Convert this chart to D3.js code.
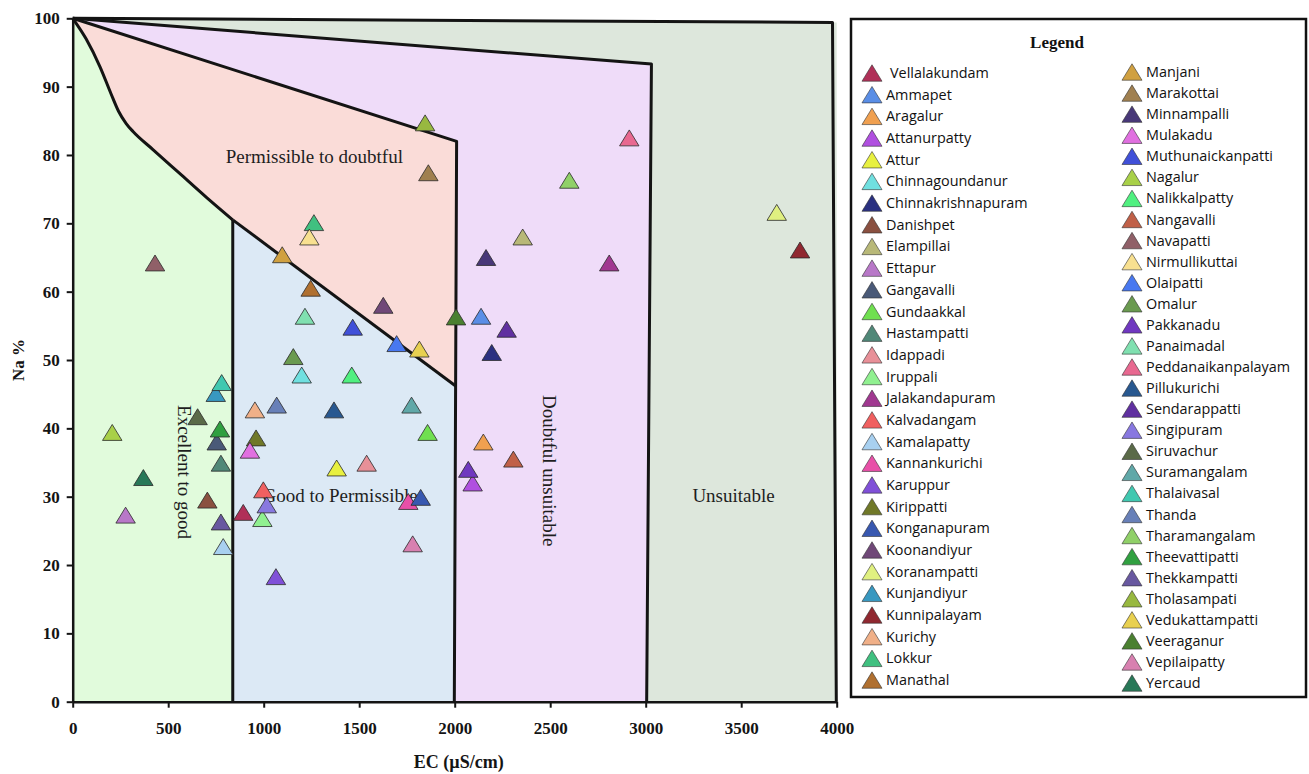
<!DOCTYPE html>
<html>
<head>
<meta charset="utf-8">
<script src="https://cdn.jsdelivr.net/npm/d3@7"></script>
<style>
  body { margin: 0; background: #ffffff; }
  svg { display: block; }
</style>
</head>
<body>
<svg id="chart" width="1309" height="774"></svg>
<script>
// Sampling sites (legend order)
const sites = [
  "Vellalakundam", "Ammapet", "Aragalur", "Attanurpatty", "Attur", "Chinnagoundanur",
  "Chinnakrishnapuram", "Danishpet", "Elampillai", "Ettapur", "Gangavalli", "Gundaakkal",
  "Hastampatti", "Idappadi", "Iruppali", "Jalakandapuram", "Kalvadangam", "Kamalapatty",
  "Kannankurichi", "Karuppur", "Kirippatti", "Konganapuram", "Koonandiyur", "Koranampatti",
  "Kunjandiyur", "Kunnipalayam", "Kurichy", "Lokkur", "Manathal",
  "Manjani", "Marakottai", "Minnampalli", "Mulakadu", "Muthunaickanpatti", "Nagalur",
  "Nalikkalpatty", "Nangavalli", "Navapatti", "Nirmullikuttai", "Olaipatti", "Omalur",
  "Pakkanadu", "Panaimadal", "Peddanaikanpalayam", "Pillukurichi", "Sendarappatti",
  "Singipuram", "Siruvachur", "Suramangalam", "Thalaivasal", "Thanda", "Tharamangalam",
  "Theevattipatti", "Thekkampatti", "Tholasampati", "Vedukattampatti", "Veeraganur",
  "Vepilaipatty", "Yercaud"
];

// Electrical conductivity, µS/cm
const ecValues = [
  893, 2138, 2150, 2094, 1382, 1199,
  2194, 705, 2356, 277, 754, 1858,
  776, 1539, 993, 2809, 998, 788,
  1757, 1064, 960, 1822, 1626, 3686,
  749, 3808, 954, 1263, 1246,
  1097, 1862, 2164, 928, 1466, 207,
  1461, 2307, 431, 1239, 1696, 1155,
  2071, 1216, 2914, 1368, 2272,
  1016, 654, 1774, 780, 1068, 2600,
  771, 776, 1845, 1815, 2007,
  1780, 370
];

// Sodium percentage
const naValues = [
  27.7, 56.4, 38.0, 32.0, 34.2, 47.8,
  51.1, 29.5, 68.0, 27.3, 38.0, 39.4,
  34.9, 34.9, 26.8, 64.2, 31.0, 22.7,
  29.3, 18.3, 38.6, 29.9, 58.0, 71.6,
  45.1, 66.1, 42.7, 70.1, 60.5,
  65.4, 77.4, 65.0, 36.8, 54.8, 39.4,
  47.8, 35.5, 64.2, 68.0, 52.4, 50.5,
  34.0, 56.4, 82.5, 42.7, 54.5,
  28.8, 41.7, 43.4, 46.7, 43.4, 76.3,
  39.9, 26.3, 84.7, 51.6, 56.3,
  23.1, 32.8
];

const siteColors = [
  "#b03058", "#5a8ee6", "#f0a050", "#b050e0", "#e8f040", "#70e0e0",
  "#2a3080", "#8a5040", "#b8b878", "#b878c8", "#4a5a78", "#70e050",
  "#508878", "#e89098", "#90f090", "#a03890", "#f06060", "#a8d0f0",
  "#e850a8", "#8050d8", "#707828", "#3858b0", "#704878", "#e0f080",
  "#3898c0", "#902830", "#f0b088", "#40c080", "#b07030",
  "#d0a040", "#a08050", "#483878", "#e070e0", "#4050d8", "#a8d048",
  "#50f080", "#c06048", "#906068", "#f8e090", "#4878f0", "#6a9a50",
  "#7038c0", "#80e0b0", "#e86890", "#285890", "#6030a0",
  "#8878e0", "#5a6a48", "#60a8a8", "#40c8b0", "#6880b8", "#90d068",
  "#30a040", "#6858a0", "#98b840", "#e8d050", "#4a8030",
  "#d880b0", "#287858"
];

const xTicks = [0, 500, 1000, 1500, 2000, 2500, 3000, 3500, 4000];
const yTicks = [0, 10, 20, 30, 40, 50, 60, 70, 80, 90, 100];

// Wilcox class boundaries, in (EC, Na%) units
const outerEdge = [[0, 100], [3978, 99.4], [3998, 0]];
const unsuitableEdge = [[0, 100], [3030, 93.3], [3005, 0]];
const doubtfulEdge = [[0, 100], [2010, 82], [1998, 0]];
const excellentCurve = [[0, 100], [70, 97.0], [143, 92.9], [200, 89.0], [240, 86.4],
                        [280, 84.6], [317, 83.4], [420, 80.8], [560, 77.3], [700, 73.8],
                        [838, 70.5]];
const permissibleEdge = [[838, 70.5], [2005, 46.2]];
const excellentEdge = [[838, 0], [838, 70.5]];

const classNames = ["Permissible to doubtful", "Excellent to good", "Good to Permissible",
                    "Doubtful unsuitable", "Unsuitable"];

const svg = d3.select("#chart");

const x = d3.scaleLinear().domain([0, 4000]).range([72.7, 836.7]);
const y = d3.scaleLinear().domain([0, 100]).range([701.7, 18.3]);

const line = d3.line().x(d => x(d[0])).y(d => y(d[1]));
const smooth = d3.line().x(d => x(d[0])).y(d => y(d[1])).curve(d3.curveMonotoneX);

// ---- class fills (painted back to front) ----
const fillG = svg.append("g");
const polys = [
  { fill: "#dde7dc", pts: [[0, 100], [3978, 99.4], [4000, 99.4], [4000, 0], [0, 0]] },
  { fill: "#efdcf9", pts: [[0, 100], [3030, 93.3], [3005, 0], [0, 0]] },
  { fill: "#fadcd8", pts: [[0, 100], [2010, 82], [2005, 46.2], [838, 70.5], [0, 70.5]] },
  { fill: "#dce9f5", pts: [[838, 0], [838, 70.5], [2005, 46.2], [1998, 0]] }
];
fillG.selectAll("path.zone")
  .data(polys)
  .join("path")
  .attr("class", "zone")
  .attr("d", d => line(d.pts) + "Z")
  .attr("fill", d => d.fill);

// excellent-to-good zone follows the smooth boundary
fillG.append("path")
  .attr("d", smooth(excellentCurve) + line([[838, 0], [0, 0]]).replace("M", "L") + "Z")
  .attr("fill", "#e1fbdc");

// ---- class boundaries ----
const edgeG = svg.append("g")
  .attr("fill", "none")
  .attr("stroke", "#141414")
  .attr("stroke-width", 3)
  .attr("stroke-linejoin", "round");
edgeG.selectAll("path.edge")
  .data([outerEdge, unsuitableEdge, doubtfulEdge, permissibleEdge, excellentEdge])
  .join("path")
  .attr("class", "edge")
  .attr("d", d => line(d));
edgeG.append("path").attr("d", smooth(excellentCurve));

// ---- class labels ----
const serif = "'Liberation Serif', 'Times New Roman', serif";
const labelG = svg.append("g")
  .attr("font-family", serif)
  .attr("font-size", 19)
  .attr("fill", "#1e1e1e");

labelG.append("text").attr("x", x(1265)).attr("y", y(79.8))
  .attr("text-anchor", "middle").attr("dy", "0.35em").text(classNames[0]);
labelG.append("text")
  .attr("transform", `translate(${x(585)},${y(33.6)}) rotate(90)`)
  .attr("text-anchor", "middle").attr("dy", "0.35em").text(classNames[1]);
labelG.append("text").attr("x", x(1400)).attr("y", y(30.2))
  .attr("text-anchor", "middle").attr("dy", "0.35em").text(classNames[2]);
labelG.append("text")
  .attr("transform", `translate(${x(2495)},${y(33.8)}) rotate(90)`)
  .attr("text-anchor", "middle").attr("dy", "0.35em").text(classNames[3]);
labelG.append("text").attr("x", x(3460)).attr("y", y(30.2))
  .attr("text-anchor", "middle").attr("dy", "0.35em").text(classNames[4]);

// ---- axes ----
const xAxis = svg.append("g")
  .attr("transform", `translate(0,${y(0)})`)
  .call(d3.axisBottom(x).tickValues(xTicks).tickFormat(d3.format("d"))
    .tickSize(6).tickSizeOuter(0).tickPadding(14));
const yAxis = svg.append("g")
  .attr("transform", `translate(${x(0)},0)`)
  .call(d3.axisLeft(y).tickValues(yTicks).tickFormat(d3.format("d"))
    .tickSize(6).tickSizeOuter(0).tickPadding(7));

[xAxis, yAxis].forEach(g => {
  g.select(".domain").attr("stroke", "#141414").attr("stroke-width", 2.5);
  g.selectAll(".tick line").attr("stroke", "#141414").attr("stroke-width", 2);
  g.selectAll(".tick text")
    .attr("font-family", serif).attr("font-size", 17).attr("font-weight", "bold")
    .attr("fill", "#141414");
});

svg.append("text")
  .attr("transform", `translate(18,${(y(0) + y(100)) / 2}) rotate(-90)`)
  .attr("text-anchor", "middle").attr("dy", "0.35em")
  .attr("font-family", serif).attr("font-size", 17).attr("font-weight", "bold")
  .attr("fill", "#141414")
  .text("Na %");

svg.append("text")
  .attr("x", (x(0) + x(4000)) / 2 + 4).attr("y", 762)
  .attr("text-anchor", "middle").attr("dy", "0.35em")
  .attr("font-family", serif).attr("font-size", 18).attr("font-weight", "bold")
  .attr("fill", "#141414")
  .text("EC (µS/cm)");

// ---- markers: upward triangles centred on their bounding box ----
const triangleUp = {
  draw(context, size) {
    const ratio = 0.82;
    const w = Math.sqrt(2 * size / ratio);
    const h = w * ratio;
    context.moveTo(0, -h / 2);
    context.lineTo(w / 2, h / 2);
    context.lineTo(-w / 2, h / 2);
    context.closePath();
  }
};
const marker = d3.symbol().type(triangleUp).size(155);

const points = sites.map((s, i) => ({ site: s, ec: ecValues[i], na: naValues[i], color: siteColors[i] }));

svg.append("g").selectAll("path")
  .data(points)
  .join("path")
  .attr("transform", d => `translate(${x(d.ec)},${y(d.na)})`)
  .attr("d", marker)
  .attr("fill", d => d.color)
  .attr("stroke", "#2a2a2a")
  .attr("stroke-width", 0.8)
  .attr("stroke-linejoin", "miter");

// ---- legend ----
const legend = svg.append("g");
legend.append("rect")
  .attr("x", 851).attr("y", 19).attr("width", 455).attr("height", 678)
  .attr("fill", "#ffffff").attr("stroke", "#111111").attr("stroke-width", 2.5);
legend.append("text")
  .attr("x", 1057).attr("y", 42).attr("text-anchor", "middle").attr("dy", "0.35em")
  .attr("font-family", serif).attr("font-size", 17).attr("font-weight", "bold")
  .attr("fill", "#111111")
  .text("Legend");

const firstColumn = 29;
const legendItems = points.map((d, i) => {
  const col = i < firstColumn ? 0 : 1;
  const row = col === 0 ? i : i - firstColumn;
  return {
    ...d,
    tx: col === 0 ? 872 : 1132,
    ty: col === 0 ? 73 + row * 21.68 : 72 + row * 21.07,
    lx: col === 0 ? (i === 0 ? 890 : 886) : 1146
  };
});

const entry = legend.selectAll("g.entry")
  .data(legendItems)
  .join("g")
  .attr("class", "entry");

entry.append("path")
  .attr("transform", d => `translate(${d.tx},${d.ty})`)
  .attr("d", d3.symbol().type(triangleUp).size(165))
  .attr("fill", d => d.color)
  .attr("stroke", "#333333")
  .attr("stroke-width", 0.6);

entry.append("text")
  .attr("x", d => d.lx).attr("y", d => d.ty)
  .attr("dy", "0.35em")
  .attr("font-family", "'Open Sans', 'Noto Sans', sans-serif")
  .attr("font-size", 14.4)
  .attr("fill", "#111111")
  .text(d => d.site);
</script>
</body>
</html>
